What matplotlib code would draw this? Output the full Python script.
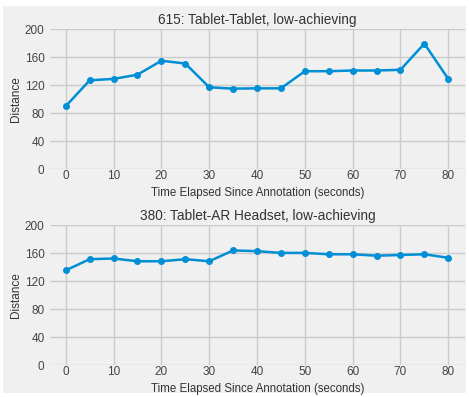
import numpy as np
import matplotlib.pyplot as plt
from matplotlib.patches import Rectangle

plt.style.use('fivethirtyeight')
plt.rcParams['font.family'] = ['Liberation Sans', 'DejaVu Sans']

# time since annotation, 5 s bins
seconds = [0, 5, 10, 15, 20, 25, 30, 35, 40, 45, 50, 55, 60, 65, 70, 75, 80]

# group 615: tablet-tablet
dist_615 = [90, 127, 129, 135, 155, 151, 117, 115, 115.5, 115.5, 140, 140, 141, 141, 142, 179.5, 129]
# group 380: tablet-AR headset
dist_380 = [135.5, 151.5, 152.5, 148.5, 148.5, 151.5, 148.5, 164, 163, 160.5, 160.5, 158.5, 158.5, 156.5, 157.5, 158.5, 153.5]

titles = ['615: Tablet-Tablet, low-achieving', '380: Tablet-AR Headset, low-achieving']
series = [dist_615, dist_380]
yticks = [0, 40, 80, 120, 160, 200]
xticks = [0, 10, 20, 30, 40, 50, 60, 70, 80]

W, H = 469, 397
fig = plt.figure(figsize=(W / 100, H / 100), dpi=100)
fig.patch.set_facecolor('white')
fig.patches.append(Rectangle((3 / W, 1 - 393 / H), 463 / W, 387 / H,
                             transform=fig.transFigure, facecolor='#f0f0f0',
                             edgecolor='none', zorder=-10))

# axes boxes in pixels: left, right, top, bottom
boxes = [(50, 465, 29.3, 169), (50, 465, 225.3, 365)]

for (l, r, t, b), title, vals in zip(boxes, titles, series):
    ax = fig.add_axes([l / W, 1 - b / H, (r - l) / W, (b - t) / H])
    ax.set_facecolor('#f0f0f0')
    ax.plot(seconds, vals, color='#008fd5', lw=1.8, marker='o', ms=4,
            mec='#008fd5', clip_on=False)
    ax.set_xlim(-3.3, 83.5)
    ax.set_ylim(0, 200)
    ax.set_xticks(xticks)
    ax.set_yticks(yticks)
    ax.grid(True, color='#cbcbcb', lw=1)
    ax.tick_params(labelsize=8.5, colors='#444444', pad=4)
    ax.tick_params(axis='x', pad=1)
    ax.set_title(title, fontsize=9.8, color='#333333', pad=4)
    ax.set_xlabel('Time Elapsed Since Annotation (seconds)', fontsize=8.3,
                  color='#333333', labelpad=3)
    ax.set_ylabel('Distance', fontsize=8.5, color='#333333', labelpad=2)
    for s in ax.spines.values():
        s.set_visible(False)

fig.savefig('out.png', dpi=100, facecolor='white')
